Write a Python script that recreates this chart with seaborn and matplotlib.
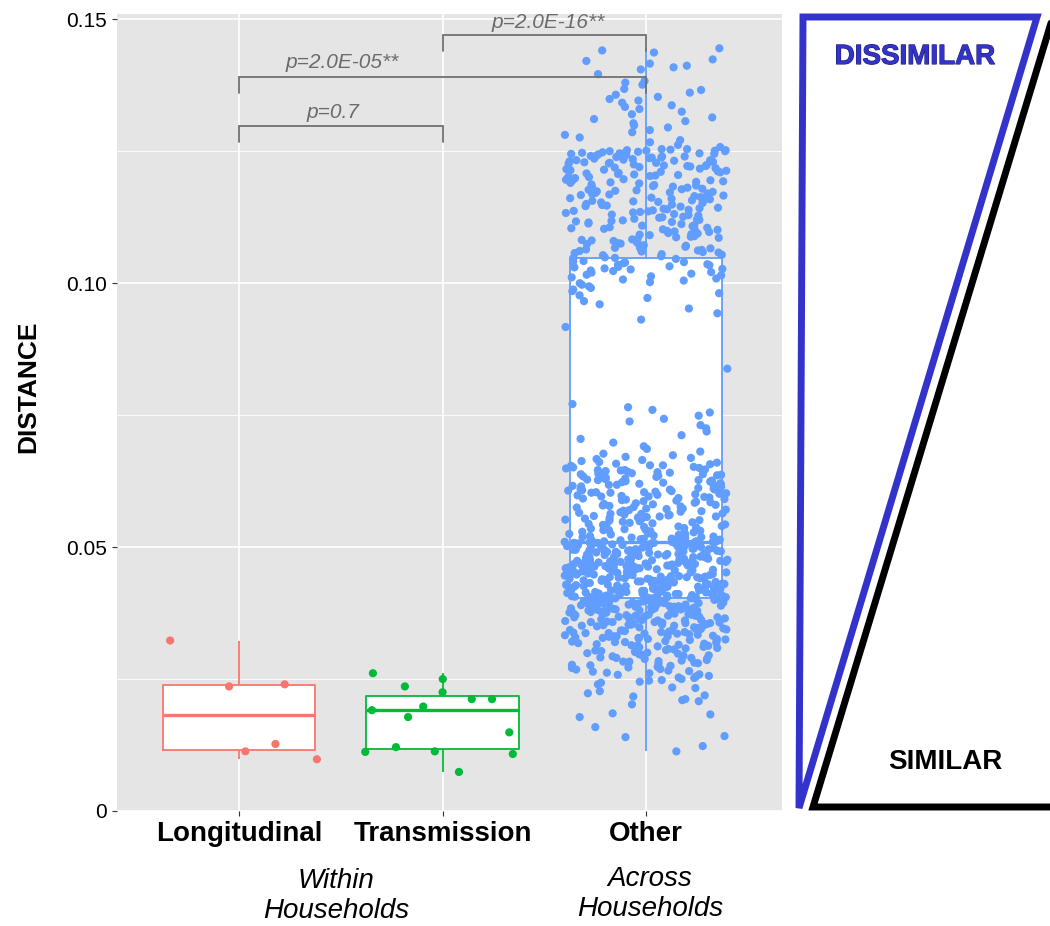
import matplotlib
matplotlib.use("Agg")
import matplotlib.pyplot as plt
import matplotlib.patheffects as pe
from matplotlib.lines import Line2D
from matplotlib.patches import Polygon
import numpy as np
import pandas as pd
import seaborn as sns

GROUPS = ["Longitudinal", "Transmission", "Other"]
PALETTE = {"Longitudinal": "#F8766D", "Transmission": "#00BA38", "Other": "#619CFF"}

LONGITUDINAL = [0.0323, 0.0240, 0.0236, 0.0127, 0.0098, 0.0113]
TRANSMISSION = [0.0250, 0.0261, 0.0236, 0.0225, 0.0212, 0.0212, 0.0198, 0.0191,
                0.0178, 0.0149, 0.0121, 0.0113, 0.0108, 0.0112, 0.0074]

# "Other" distances, read band by band, in units of 1e-4
OTHER_TOP = [1445, 1441, 1437, 1424, 1421, 1416, 1412, 1409, 1405, 1396,
             1383, 1380, 1376, 1368, 1366, 1361, 1357, 1353, 1349, 1346,
             1342, 1337, 1334, 1330, 1325, 1320, 1314, 1311, 1307, 1303,
             1299, 1295, 1290, 1286, 1281, 1276, 1271, 1267, 1262, 1258]
OTHER_UPPER = [1046, 1048, 1048, 1051, 1053, 1054, 1058, 1059, 1060, 1063,
               1064, 1067, 1067, 1069, 1072, 1074, 1075, 1076, 1080, 1081,
               1083, 1084, 1088, 1089, 1091, 1092, 1093, 1097, 1098, 1100,
               1101, 1104, 1105, 1106, 1109, 1110, 1112, 1115, 1116, 1117,
               1119, 1121, 1122, 1125, 1126, 1128, 1129, 1133, 1134, 1135,
               1137, 1138, 1141, 1142, 1143, 1146, 1148, 1149, 1150, 1153,
               1154, 1156, 1157, 1158, 1161, 1162, 1165, 1166, 1168, 1169,
               1170, 1173, 1174, 1176, 1178, 1179, 1182, 1183, 1185, 1186,
               1187, 1190, 1191, 1192, 1194, 1196, 1197, 1199, 1201, 1202,
               1203, 1205, 1206, 1208, 1209, 1211, 1212, 1213, 1215, 1216,
               1217, 1218, 1220, 1221, 1222, 1223, 1224, 1226, 1227, 1228,
               1229, 1230, 1231, 1232, 1233, 1234, 1235, 1236, 1237, 1238,
               1239, 1240, 1241, 1241, 1242, 1243, 1244, 1245, 1246, 1247,
               1247, 1248, 1249, 1250, 1251, 1251, 1252, 1253, 1254, 1254,
               1057, 1071, 1086, 1102, 1118, 1131, 1145, 1160, 1177, 1193,
               1210, 1225, 1238, 1245, 1252, 1062, 1095, 1139, 1171, 1219,
               1049, 1055, 1061, 1066, 1070, 1077, 1082, 1087, 1094, 1099,
               1103, 1108, 1113, 1120, 1124, 1130, 1136, 1140, 1147, 1152,
               1155, 1159, 1163, 1167, 1172, 1175, 1181, 1184, 1189, 1195,
               1198, 1204, 1207, 1214, 1222, 1228, 1233, 1240, 1246, 1250]
OTHER_INBOX_HI = [1042, 1041, 1040, 1039, 1038, 1036, 1035, 1034, 1032, 1031,
                  1030, 1028, 1027, 1026, 1024, 1023, 1021, 1020, 1018, 1016,
                  1015, 1013, 1011, 1009, 1007, 1005, 1002, 1000, 997, 994,
                  991, 988, 985, 981, 977, 972, 966, 960, 952, 943,
                  931, 917, 838]
OTHER_MID = [771, 765, 760, 755, 749, 743, 738, 731, 725, 719,
             712, 705, 698, 691, 686, 681, 677, 674, 671, 669,
             667, 665, 663, 661, 660, 658, 657, 655, 654, 652,
             651, 650, 649]
OTHER_CORE_HI = [512, 513, 513, 514, 516, 516, 517, 519, 519, 520,
                 521, 522, 524, 524, 525, 526, 528, 528, 529, 531,
                 532, 533, 533, 535, 536, 537, 539, 540, 541, 542,
                 544, 545, 546, 548, 549, 550, 552, 553, 555, 556,
                 558, 559,
                 560, 561, 563, 563, 564, 566, 567, 568, 569, 571,
                 572, 573, 574, 576, 577, 578, 580, 581, 582, 583,
                 585, 586, 587, 589, 590, 591, 592, 594, 595, 596,
                 597, 599, 600, 601, 602, 603, 604, 604,
                 605, 606, 608, 609, 609, 611, 612, 613, 614, 616,
                 617, 618, 618, 620, 621, 622, 623, 625, 626, 627,
                 628, 629, 630, 632, 633, 634, 635, 636, 638, 638,
                 639, 640, 641, 643, 644, 645, 646, 647,
                 514, 518, 523, 527, 530, 534, 538, 543, 547, 551,
                 554, 557, 562, 565, 570, 575, 579, 584, 588, 593,
                 598, 603, 607, 610, 615, 619, 624, 627, 631, 637,
                 642, 646, 515, 532, 558, 573, 596, 612, 634, 655]
OTHER_CORE_LO = [405, 406, 406, 408, 409, 409, 410, 412, 412, 413,
                 414, 414, 415, 417, 417, 418, 419, 419, 421, 422,
                 422, 423, 424, 426, 426, 427, 427, 429, 430, 431,
                 431, 432, 434, 434, 435, 436, 436, 438, 439, 439,
                 440, 441, 443, 443, 444, 445, 445, 447, 448, 448,
                 449, 450, 450, 452, 453, 453, 454, 455, 457, 457,
                 458, 459, 459, 460, 462, 462, 463, 464, 464, 466,
                 467, 467, 468, 469, 471, 471, 472, 473, 473, 474,
                 476, 476, 477, 478, 478, 480, 481, 481, 482, 483,
                 484, 485, 485, 487, 488, 488, 489, 490, 491, 492,
                 492, 494, 495, 495, 496, 497, 498, 499, 499, 500,
                 502, 502, 503, 504, 505, 506, 506, 507, 508, 509,
                 510, 510, 511, 407, 411, 416, 420, 425, 428, 433,
                 437, 441, 446, 451, 456, 461, 465, 470, 475, 479,
                 483, 486, 491, 493, 497, 501, 504, 508, 511, 405,
                 408, 413, 418, 424, 429, 435, 440, 446, 452, 458,
                 463, 468, 474, 480, 486, 490, 496, 500, 505, 509,
                 406, 410, 415, 421, 425, 430, 437, 442, 447, 451,
                 455, 460, 465, 469, 472, 477, 482, 487, 494, 498,
                 503, 507, 511, 409, 419, 428, 438, 449, 456, 470,
                 407, 411, 414, 418, 422, 425, 429, 432, 436, 440,
                 443, 447, 450, 454, 458, 461, 465, 468, 472, 475,
                 479, 482, 486, 489, 493, 496, 500, 503, 507, 510,
                 412, 423, 433, 444, 455, 466, 476, 487, 497, 508]
OTHER_LOW = [245, 247, 248, 250, 252, 253, 255, 256, 258, 259,
             261, 262, 264, 265, 266, 268, 269, 271, 272, 273,
             275, 276, 277, 279, 280, 281, 283, 284, 285, 286,
             288, 289, 290, 291, 293, 294, 295, 296, 298, 299,
             300, 301, 302, 304, 305, 306, 307, 308, 310, 311,
             312, 313, 314, 315, 316, 318, 319, 320, 321, 322,
             323, 324, 325, 326, 327, 328, 329, 330, 331, 332,
             333, 334, 335, 336, 337, 338, 339, 340, 341, 342,
             343, 344, 345, 346, 347, 348, 349, 350, 351, 352,
             353, 354, 355, 356, 357, 358, 359, 360, 361, 362,
             363, 364, 365, 366, 367, 368, 369, 370, 371, 372,
             373, 374, 375, 376, 377, 378, 379, 380, 381, 382,
             383, 384, 385, 386, 387, 388, 389, 390, 391, 392,
             393, 394, 395, 396, 397, 398, 399, 400, 401, 402,
             403, 404, 317, 328, 336, 344, 351, 357, 363, 368,
             372, 376, 380, 384, 387, 390, 393, 396, 399, 401,
             403, 404, 331, 342, 353, 361, 367, 374, 379, 385,
             389, 394, 398, 402, 404, 339, 358, 370, 382, 397,
             283, 290, 297, 303, 309, 314, 320, 326, 331, 337,
             342, 348, 353, 358, 362, 366, 370, 374, 377, 381,
             384, 388, 391, 393, 396, 398, 400, 401, 403, 404,
             356, 365, 371, 378, 386, 392, 395, 399, 402, 404]
OTHER_TAIL = [234, 223, 202, 183, 159, 142, 123, 113, 140, 178,
              185, 212, 217, 233, 227, 208, 219, 210, 240, 243]

P_LABELS = ["p=0.7", "p=2.0E-05**", "p=2.0E-16**"]


def main() -> int:
    other = np.concatenate([OTHER_TOP, OTHER_UPPER, OTHER_INBOX_HI, OTHER_MID,
                            OTHER_CORE_HI, OTHER_CORE_LO, OTHER_LOW, OTHER_TAIL]) / 1e4
    df = pd.DataFrame({
        "group": (["Longitudinal"] * len(LONGITUDINAL) + ["Transmission"] * len(TRANSMISSION)
                  + ["Other"] * len(other)),
        "distance": np.concatenate([LONGITUDINAL, TRANSMISSION, other]),
    })

    sns.set_theme(style="darkgrid", rc={
        "axes.facecolor": "#E5E5E5", "grid.color": "white",
        "text.color": "black", "axes.labelcolor": "black",
        "xtick.color": "black", "ytick.color": "black",
    })
    plt.rcParams["font.family"] = ["Liberation Sans", "DejaVu Sans"]

    fig = plt.figure(figsize=(10.5, 9.26), dpi=100)
    ax = fig.add_axes([117 / 1050, 1 - 811 / 926, 665 / 1050, 797 / 926])

    # white box fill underneath, coloured outlines on top of it
    sns.boxplot(data=df, x="group", y="distance", order=GROUPS, color="white",
                linecolor="white", linewidth=0.3, width=0.75, showcaps=False,
                fliersize=0, saturation=1, ax=ax)
    sns.boxplot(data=df, x="group", y="distance", order=GROUPS, hue="group",
                hue_order=GROUPS, palette=PALETTE, fill=False, linewidth=1.3,
                width=0.75, showcaps=False, fliersize=0, saturation=1,
                medianprops={"linewidth": 2.4}, legend=False, ax=ax)
    np.random.seed(7)
    sns.stripplot(data=df, x="group", y="distance", order=GROUPS, hue="group",
                  hue_order=GROUPS, palette=PALETTE, jitter=0.4, size=5.9,
                  linewidth=0, legend=False, zorder=3, ax=ax)

    ax.set_xlim(-0.6, 2.668)
    ax.set_ylim(0, 0.151)
    ax.set_yticks([0, 0.05, 0.10, 0.15])
    ax.set_yticklabels(["0", "0.05", "0.10", "0.15"])
    ax.set_yticks([0.025, 0.075, 0.125], minor=True)
    ax.set_axisbelow(True)
    ax.grid(which="major", color="white", lw=1.2)
    ax.yaxis.grid(True, which="minor", color="white", lw=0.6)
    ax.xaxis.grid(True, which="major", color="white", lw=1.2)
    for sp in ax.spines.values():
        sp.set_visible(False)
    ax.tick_params(axis="both", which="major", length=3.5, width=0.8,
                   color="#333333", bottom=True, left=True)
    ax.tick_params(axis="y", which="minor", length=0)
    ax.tick_params(axis="y", labelsize=15, pad=3.5, labelcolor="black")
    ax.tick_params(axis="x", labelsize=20, pad=4, labelcolor="black")
    for lab in ax.get_xticklabels():
        lab.set_fontweight("bold")
    ax.set_xlabel("")
    ax.set_ylabel("")

    # significance brackets
    brackets = [(0, 1, 0.1297, 0.1267), (0, 2, 0.1390, 0.1360), (1, 2, 0.1471, 0.1439)]
    text_pos = [(0.46, 0.1323), (0.505, 0.1418), (1.52, 0.1493)]
    for (x0, x1, top, leg), (tx, ty), lab in zip(brackets, text_pos, P_LABELS):
        ax.plot([x0, x0, x1, x1], [leg, top, top, leg], color="#707070", lw=1.3,
                zorder=4, solid_joinstyle="miter")
        ax.text(tx, ty, lab, ha="center", va="center", fontsize=15,
                style="italic", color="#6b6b6b", zorder=5)

    fig.text(28 / 1050, 1 - 387 / 926, "DISTANCE", rotation=90, ha="center",
             va="center", fontsize=19, fontweight="bold", color="black")
    fig.text(336 / 1050, 1 - 896 / 926, "Within\nHouseholds", ha="center",
             va="center", fontsize=20, style="italic", linespacing=1.15,
             color="black")
    fig.text(650 / 1050, 1 - 894 / 926, "Across\nHouseholds", ha="center",
             va="center", fontsize=20, style="italic", linespacing=1.15,
             color="black")

    # dissimilar / similar wedge on the right
    def fx(px):
        return px / 1050

    def fy(py):
        return 1 - py / 926

    blue = Polygon([(fx(803), fy(17)), (fx(1037), fy(17)), (fx(799), fy(808))],
                   closed=True, fill=False, edgecolor="#3333CC", lw=5.0,
                   joinstyle="miter", transform=fig.transFigure)
    fig.add_artist(blue)
    black = Line2D([fx(1058), fx(813), fx(1062)], [fy(0), fy(807), fy(807)],
                   color="black", lw=5.0, solid_joinstyle="miter",
                   transform=fig.transFigure)
    fig.add_artist(black)
    fig.text(fx(915), fy(57), "DISSIMILAR", ha="center", va="center",
             fontsize=20, fontweight="bold", color="#3333CC",
             path_effects=[pe.withStroke(linewidth=0.8, foreground="#1c1c70")])
    fig.text(fx(945), fy(762), "SIMILAR", ha="center", va="center",
             fontsize=20, fontweight="bold", color="black")

    fig.savefig("out.png", dpi=100)
    plt.close(fig)
    return 0


if __name__ == "__main__":
    raise SystemExit(main())
